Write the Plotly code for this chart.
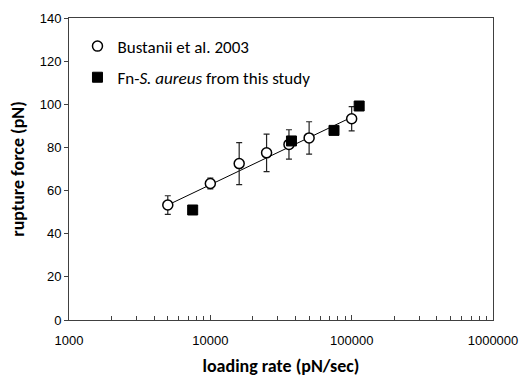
import plotly.graph_objects as go

# Bustanii et al. 2003
bus_x = [5000, 10000, 16000, 25000, 36000, 50000, 100000]
bus_y = [53.3, 63.3, 72.5, 77.5, 81.4, 84.4, 93.3]
bus_err = [4.3, 2.5, 9.7, 8.7, 6.8, 7.5, 5.6]

# Fn-S. aureus from this study
fn_x = [7500, 37500, 75000, 113000]
fn_y = [51.0, 83.0, 87.9, 99.2]

# log fit line endpoints
fit_x = [5000, 100000]
fit_y = [53.3, 94.0]

x_ticks = [1000, 10000, 100000, 1000000]
x_tick_text = ["1000", "10000", "100000", "1000000"]
x_minor = [m * d for d in (1000, 10000, 100000) for m in range(2, 10)]
y_ticks = [0, 20, 40, 60, 80, 100, 120, 140]

fig = go.Figure()
fig.add_trace(go.Scatter(x=fit_x, y=fit_y, mode="lines",
                         line=dict(color="black", width=1), showlegend=False))
fig.add_trace(go.Scatter(
    x=bus_x, y=bus_y, mode="markers", name="Bustanii et al. 2003",
    legendgroup="a",
    marker=dict(symbol="circle", size=10, color="white",
                line=dict(color="black", width=1.5)),
    error_y=dict(type="data", array=bus_err, color="#222222", thickness=1.2, width=3)))
fig.add_trace(go.Scatter(
    x=fn_x, y=fn_y, mode="markers", name="Fn-<i>S. aureus</i> from this study",
    legendgroup="b",
    marker=dict(symbol="square", size=10, color="black",
                line=dict(color="black", width=1))))

fig.update_layout(
    width=522, height=377,
    margin=dict(l=69, r=29, t=18, b=57, autoexpand=False),
    paper_bgcolor="white", plot_bgcolor="white",
    font=dict(family="Liberation Sans, Arial", color="black", size=13),
    legend=dict(x=0.02, y=0.965, xanchor="left", yanchor="top",
                font=dict(family="Carlito, Lato, sans-serif", size=17),
                bgcolor="rgba(0,0,0,0)", itemwidth=30,
                traceorder="grouped", tracegroupgap=6),
    xaxis=dict(type="log", range=[3, 6], tickmode="array", tickvals=x_ticks,
               ticktext=x_tick_text, ticks="inside", ticklen=5, tickcolor="#404040",
               ticklabelstandoff=8, automargin=False,
               showline=True, linecolor="#404040", linewidth=1, mirror=True,
               showgrid=False, zeroline=False,
               minor=dict(tickmode="array", tickvals=x_minor, ticks="inside",
                          ticklen=4, tickcolor="#404040"),
               title=dict(text="<b>loading rate (pN/sec)</b>", standoff=12,
                          font=dict(family="Carlito, Lato, sans-serif", size=18))),
    yaxis=dict(range=[0, 140], tickmode="array", tickvals=y_ticks,
               ticks="outside", ticklen=4, tickcolor="#404040", automargin=False,
               showline=True, linecolor="#404040", linewidth=1, mirror=True,
               showgrid=False, zeroline=False,
               title=dict(text="<b>rupture force (pN)</b>", standoff=10,
                          font=dict(family="Carlito, Lato, sans-serif", size=18))),
)

fig.write_html("out.html")
